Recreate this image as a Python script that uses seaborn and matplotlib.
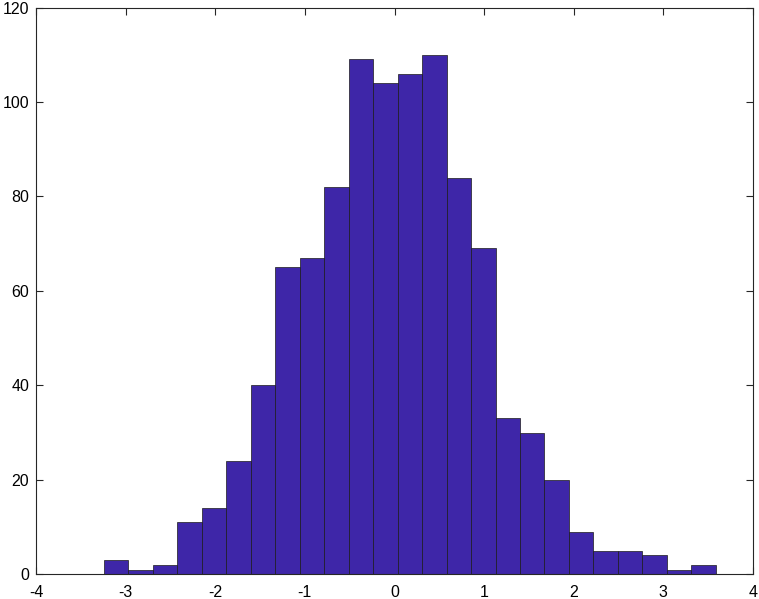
import numpy as np
import pandas as pd
import matplotlib
matplotlib.use('Agg')
import matplotlib.pyplot as plt
import seaborn as sns

# histogram counts, left to right
counts = [3, 1, 2, 11, 14, 24, 40, 65, 67, 82, 109, 104, 106,
          110, 84, 69, 33, 30, 20, 9, 5, 5, 4, 1, 2]
bin_start = -3.241
bin_width = 0.273

x_ticks = [-4, -3, -2, -1, 0, 1, 2, 3, 4]
y_ticks = [0, 20, 40, 60, 80, 100, 120]

edges = bin_start + bin_width * np.arange(len(counts) + 1)
centers = (edges[:-1] + edges[1:]) / 2
df = pd.DataFrame({'x': centers, 'count': counts})

sns.set_style('white')
plt.rcParams['font.family'] = ['Liberation Sans', 'DejaVu Sans']

fig = plt.figure(figsize=(7.59, 5.99), dpi=100)
ax = fig.add_axes([36 / 759, 1 - 574.3 / 599, 717 / 759, 566.8 / 599])

sns.histplot(data=df, x='x', weights='count', bins=list(edges), ax=ax,
             color='#3E26A8', alpha=1.0, edgecolor='#1a1a1a', linewidth=0.5)

ax.set_xlim(-4, 4)
ax.set_ylim(0, 120)
ax.set_xticks(x_ticks)
ax.set_yticks(y_ticks)
ax.set_xticklabels([str(t) for t in x_ticks])
ax.set_yticklabels([str(t) for t in y_ticks])
ax.set_xlabel('')
ax.set_ylabel('')

for s in ax.spines.values():
    s.set_visible(True)
    s.set_color('#262626')
    s.set_linewidth(0.8)

ax.tick_params(direction='in', length=5, width=0.8, color='#262626',
               labelsize=11.5, labelcolor='black',
               top=True, right=True, bottom=True, left=True)
ax.tick_params(axis='x', pad=7.5)
ax.tick_params(axis='y', pad=5)

fig.savefig('out.png', dpi=100)
